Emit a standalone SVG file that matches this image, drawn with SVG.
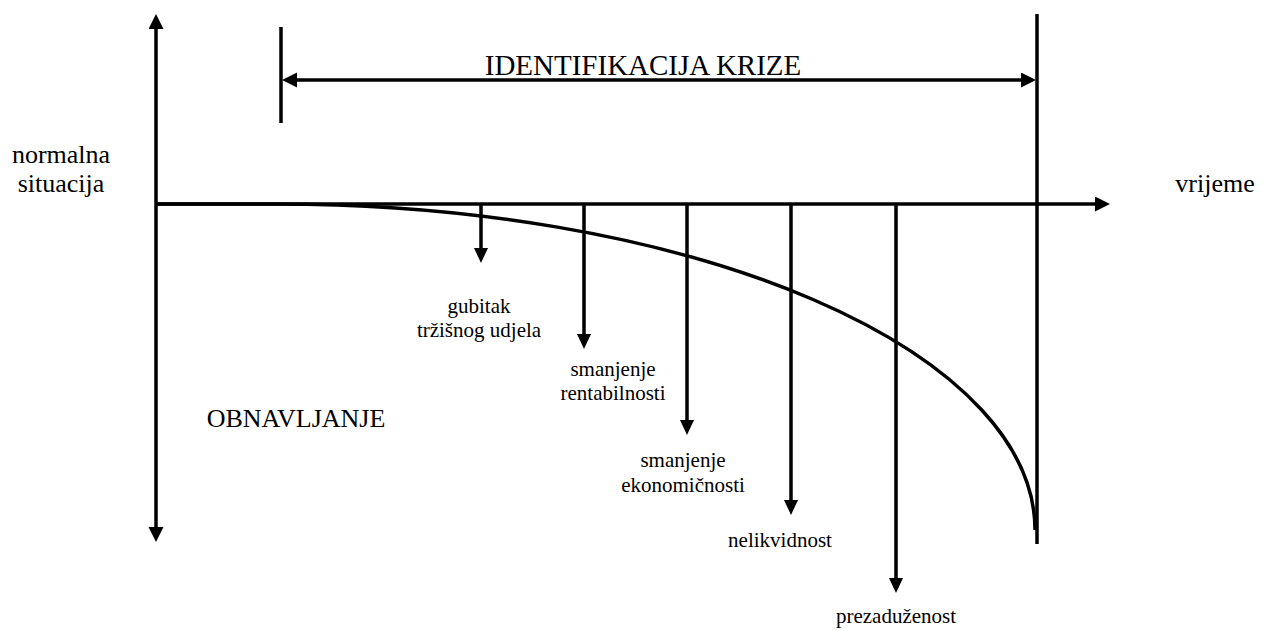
<svg xmlns="http://www.w3.org/2000/svg" width="1264" height="630" viewBox="0 0 1264 630">
<style>
.ln{stroke:#000;stroke-width:3.5;fill:none}
.lbl{font-family:"Liberation Serif","Times New Roman",serif;fill:#000;text-anchor:middle}
.big{font-size:26px}
.sm{font-size:21px}
.ttl{font-size:29px}
.ah{fill:#000;stroke:none}
</style>
<defs>
<marker id="arr" markerUnits="userSpaceOnUse" markerWidth="16" markerHeight="16" refX="0" refY="7.5" orient="auto">
<path class="ah" d="M0,0 L15,7.5 L0,15 Z"/>
</marker>
<marker id="arrs" markerUnits="userSpaceOnUse" markerWidth="16" markerHeight="16" refX="0" refY="7" orient="auto">
<path class="ah" d="M0,0 L15,7 L0,14 Z"/>
</marker>
<marker id="arrstart" markerUnits="userSpaceOnUse" markerWidth="16" markerHeight="16" refX="0" refY="7.5" orient="auto-start-reverse">
<path class="ah" d="M0,0 L15,7.5 L0,15 Z"/>
</marker>
</defs>
<g id="connectors">
<line id="y-axis" class="ln" x1="156" y1="29" x2="156" y2="527" marker-start="url(#arrstart)" marker-end="url(#arrstart)"/>
<line id="x-axis" class="ln" x1="156" y1="204" x2="1095" y2="204" marker-end="url(#arr)"/>
<line id="tick-left" class="ln" x1="281" y1="27" x2="281" y2="123"/>
<line id="line-right" class="ln" x1="1037" y1="14" x2="1037" y2="544"/>
<line id="ident-arrow" class="ln" x1="297" y1="80" x2="1021" y2="80" marker-start="url(#arrstart)" marker-end="url(#arrstart)"/>
<path id="curve" class="ln" d="M156,204 H277 A758 326 0 0 1 1035,530"/>
<line class="ln" x1="481" y1="204" x2="481" y2="248" marker-end="url(#arrs)"/>
<line class="ln" x1="584" y1="204" x2="584" y2="334" marker-end="url(#arrs)"/>
<line class="ln" x1="687" y1="204" x2="687" y2="420" marker-end="url(#arrs)"/>
<line class="ln" x1="791" y1="204" x2="791" y2="500" marker-end="url(#arrs)"/>
<line class="ln" x1="896" y1="204" x2="896" y2="578" marker-end="url(#arrs)"/>
</g>
<g id="title"><text class="lbl ttl" x="643" y="75">IDENTIFIKACIJA KRIZE</text></g>
<g id="normalna"><text class="lbl big" x="61" y="163">normalna</text><text class="lbl big" x="61" y="192">situacija</text></g>
<g id="vrijeme"><text class="lbl big" x="1215" y="192">vrijeme</text></g>
<g id="obnavljanje"><text class="lbl big" x="296" y="427">OBNAVLJANJE</text></g>
<g id="gubitak"><text class="lbl sm" x="479" y="313">gubitak</text><text class="lbl sm" x="479" y="337">tržišnog udjela</text></g>
<g id="rentabilnost"><text class="lbl sm" x="613" y="376">smanjenje</text><text class="lbl sm" x="613" y="400">rentabilnosti</text></g>
<g id="ekonomicnost"><text class="lbl sm" x="683" y="467">smanjenje</text><text class="lbl sm" x="683" y="492">ekonomičnosti</text></g>
<g id="nelikvidnost"><text class="lbl sm" x="780" y="547">nelikvidnost</text></g>
<g id="prezaduzenost"><text class="lbl sm" x="896" y="623">prezaduženost</text></g>
</svg>
